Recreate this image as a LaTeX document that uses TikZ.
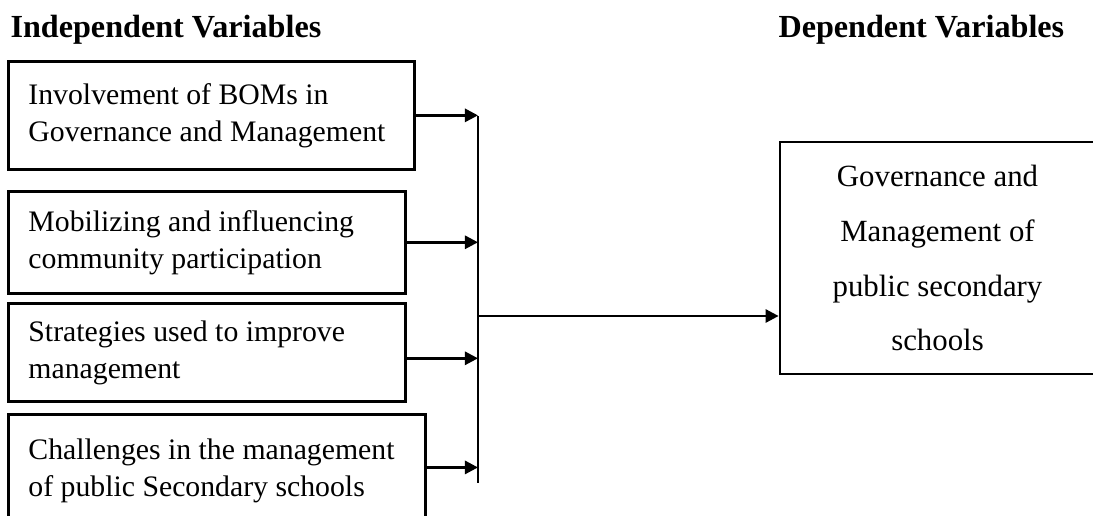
\documentclass[tikz,border=0pt]{standalone}
\usepackage{fontspec}
\setmainfont{Liberation Serif}
\usepackage{tikz}
\usetikzlibrary{arrows.meta,positioning}
\hyphenpenalty=10000

\begin{document}
\begin{tikzpicture}[
    x=0.373pt, y=-0.373pt,
    box/.style={draw, line width=1pt, align=flush left, inner xsep=7.5pt,
                anchor=north west, font=\fontsize{11.1}{13.8}\selectfont},
    depbox/.style={draw, line width=1pt, align=center, minimum width=117.5pt,
                minimum height=86.5pt, font=\fontsize{11.5}{20.5}\selectfont},
    heading/.style={inner sep=0pt, anchor=base west, font=\fontsize{12}{14}\selectfont\bfseries},
    arr/.style={-{Triangle[length=4.9pt,width=4.9pt]}, line width=1pt}
  ]
  \useasboundingbox (0,0) rectangle (1093,515);
  \clip (0,0) rectangle (1093,515);

  % Headings
  \node[heading] (indep) at (10,37) {Independent Variables};
  \node[heading] (dep) at (778,37) {Dependent Variables};

  % Left column: independent variables
  \node[box, text width=136.4pt, minimum height=40.3pt] (bom) at (7,60)
    {Involvement of BOMs in\\Governance and Management};
  \node[box, text width=133.1pt, minimum height=38pt] (mobil) at (7,190)
    {Mobilizing and influencing\\community participation};
  \node[box, text width=133.1pt, minimum height=36.6pt] (strat) at (7,302)
    {Strategies used to improve\\management};
  \node[box, text width=140.5pt, minimum height=42pt] (chall) at (7,413)
    {Challenges in the management\\of public Secondary schools};

  % Right: dependent variable
  \node[depbox] (gov) at (937.5,258)
    {Governance and\\Management of\\public secondary\\schools};

  % Collecting bar
  \coordinate (bartop) at (478,116);
  \coordinate (barbot) at (478,483);
  \coordinate (hub) at (478,316);
  \draw[line width=0.4pt] (bartop) -- (barbot);

  % Arrows
  \draw[arr] (bom.east) -- (bom.east -| bartop);
  \draw[arr] (mobil.east) -- (mobil.east -| bartop);
  \draw[arr] ([yshift=-2.2pt]strat.east) -- ([yshift=-2.2pt]strat.east -| bartop);
  \draw[arr] ([yshift=1.2pt]chall.east) -- ([yshift=1.2pt]chall.east -| bartop);
  \draw[arr] (hub) -- (hub -| gov.west);
\end{tikzpicture}
\end{document}
